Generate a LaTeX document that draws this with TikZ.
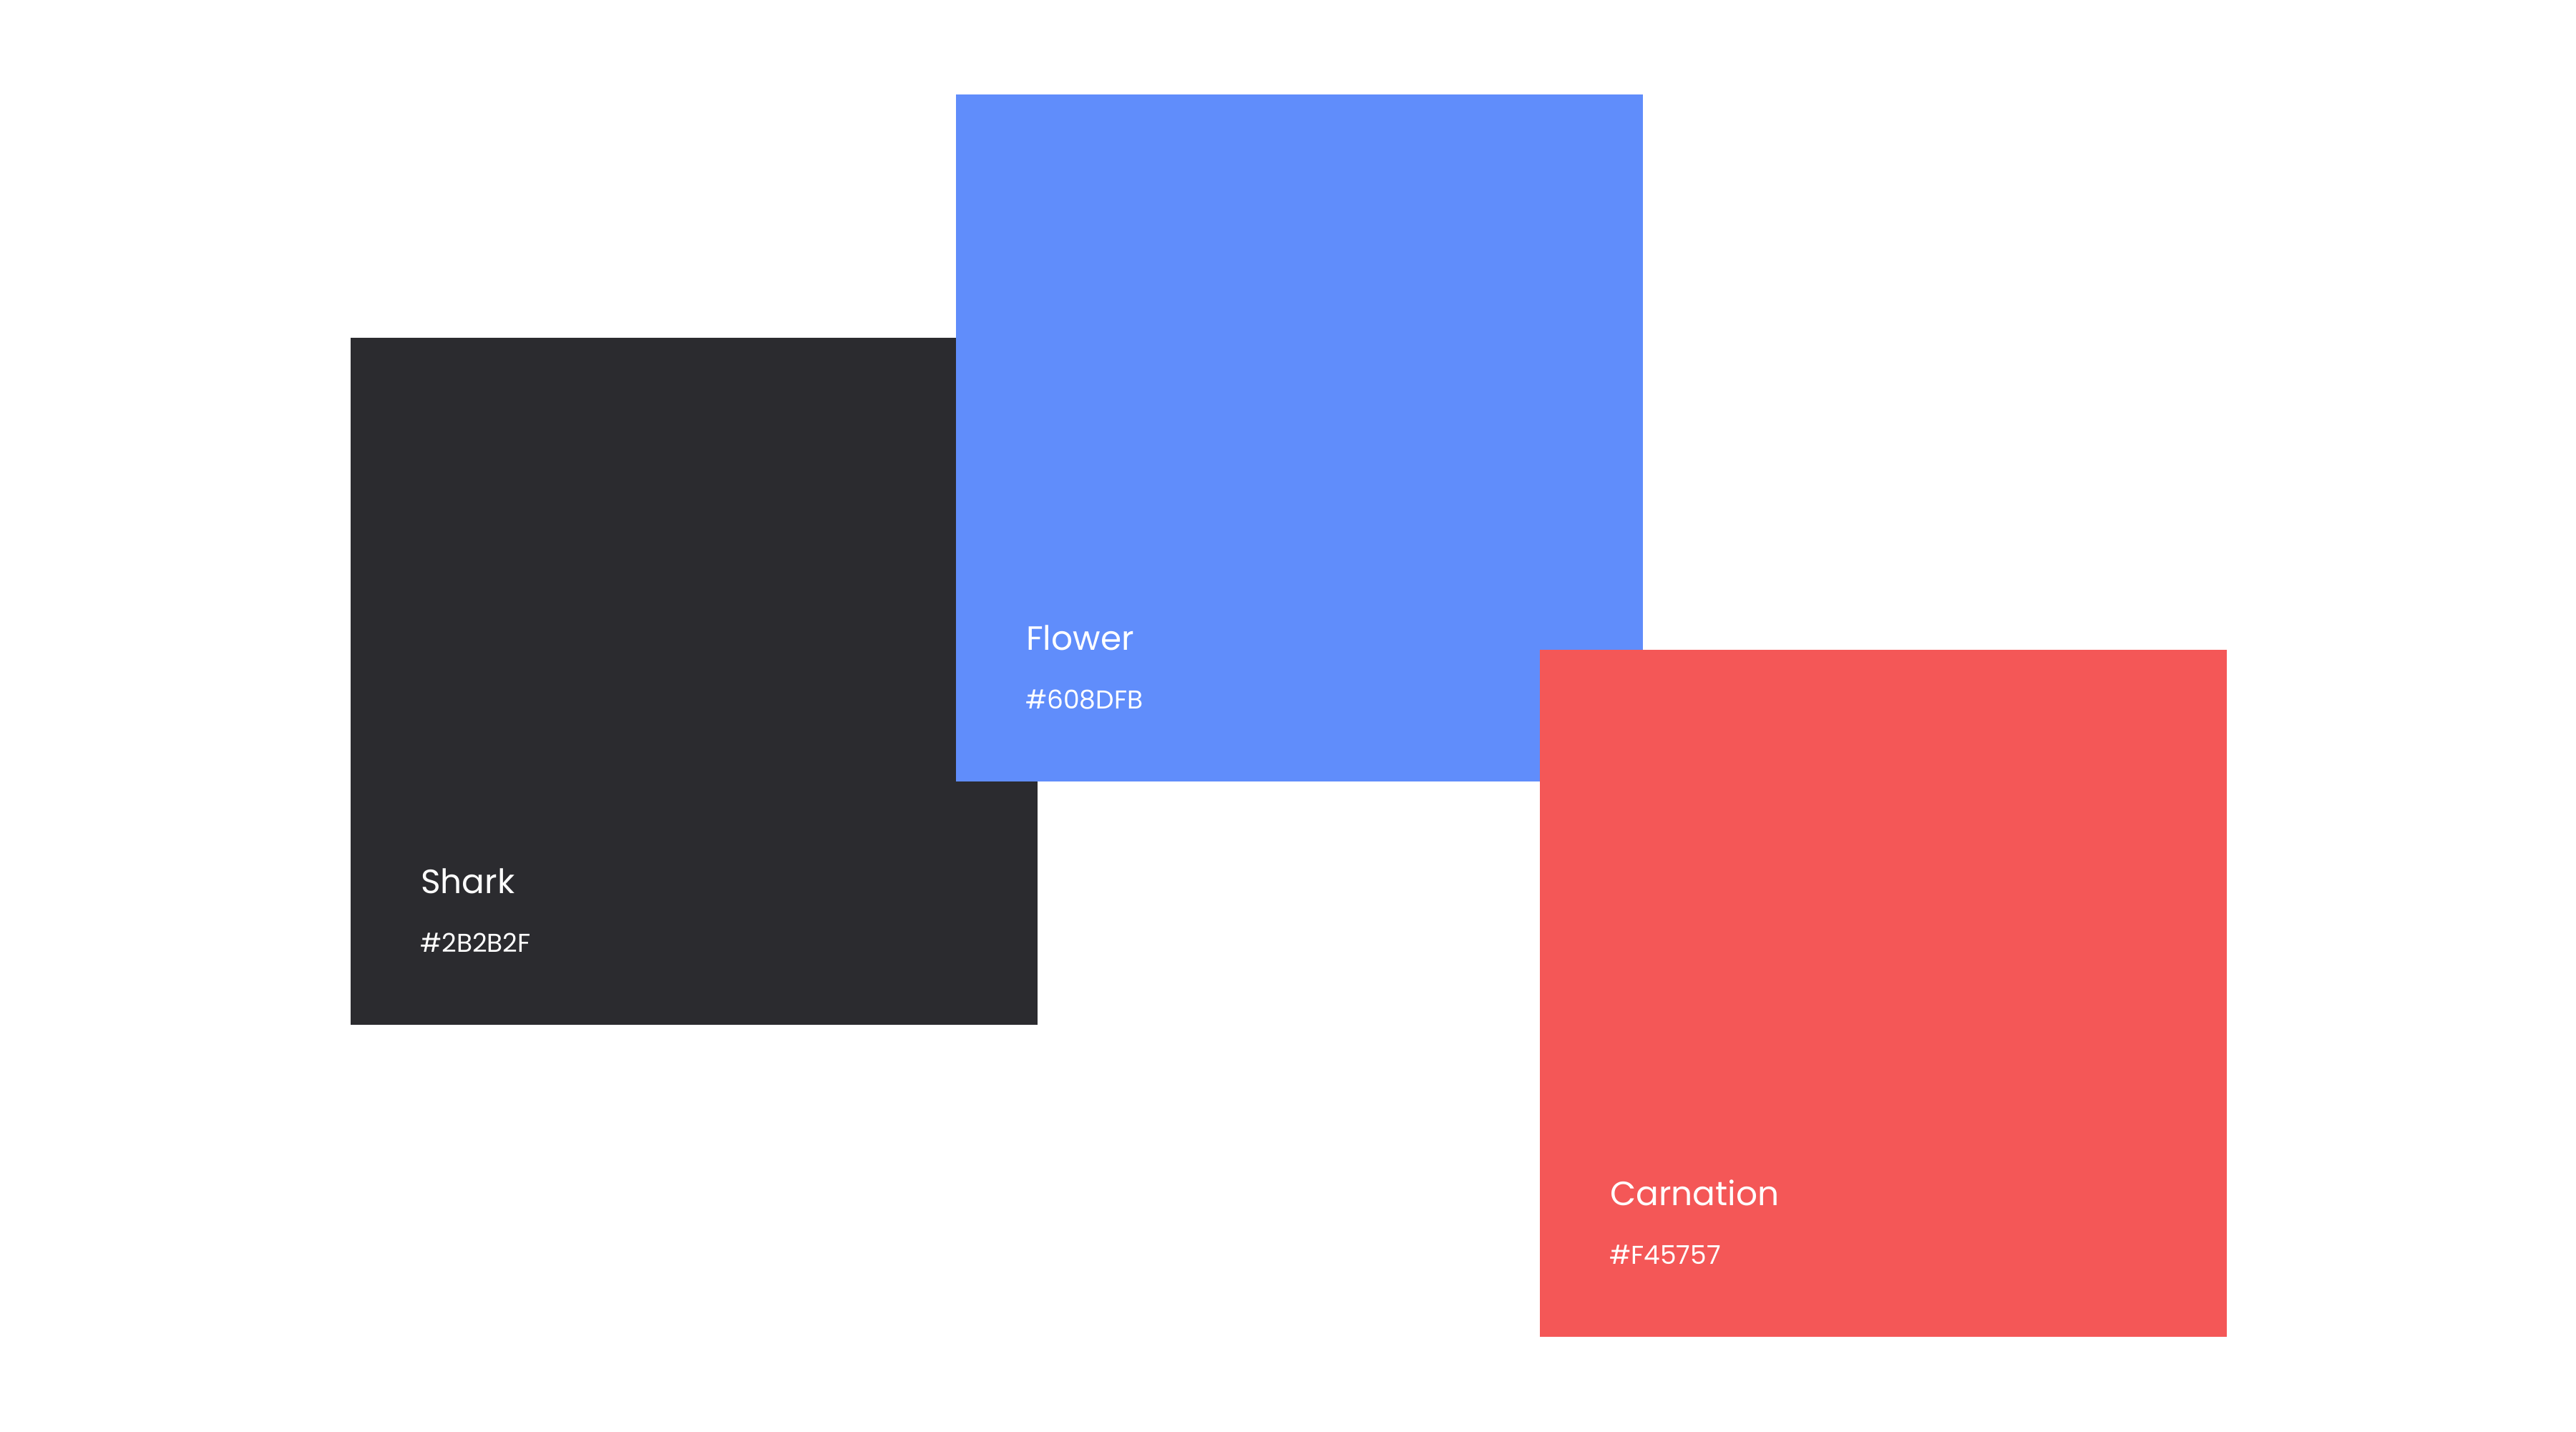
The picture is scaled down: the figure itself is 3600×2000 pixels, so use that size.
\documentclass[tikz,border=0pt]{standalone}
\usepackage{fontspec}
\setmainfont{Poppins}
\definecolor{shark}{HTML}{2B2B2F}
\definecolor{flower}{HTML}{608DFB}
\definecolor{carnation}{HTML}{F45757}
\begin{document}
\begin{tikzpicture}[x=1pt,y=-1pt,
  swatch/.style={rectangle,inner sep=0pt,outer sep=0pt,minimum width=960pt,minimum height=960pt,anchor=north west},
  cname/.style={anchor=base west,inner sep=0pt,text=white,font=\fontsize{47}{50}\selectfont},
  chex/.style={anchor=base west,inner sep=0pt,text=white,font=\fontsize{36}{40}\selectfont}]
\fill[white] (0,0) rectangle (3600,2000);
\useasboundingbox (0,0) rectangle (3600,2000);
\node[swatch,fill=shark] (shark) at (490,472) {};
\node[swatch,fill=flower] (flower) at (1336,132) {};
\node[swatch,fill=carnation] (carn) at (2152,908) {};
\node[cname] (sharkname) at (588,1248) {Shark};
\node[chex] (sharkhex) at (587,1330) {\#2B2B2F};
\node[cname] (flowername) at (1434,908) {Flower};
\node[chex] (flowerhex) at (1433,990) {\#608DFB};
\node[cname] (carnname) at (2250,1684) {Carnation};
\node[chex] (carnhex) at (2249,1766) {\#F45757};
\end{tikzpicture}
\end{document}
